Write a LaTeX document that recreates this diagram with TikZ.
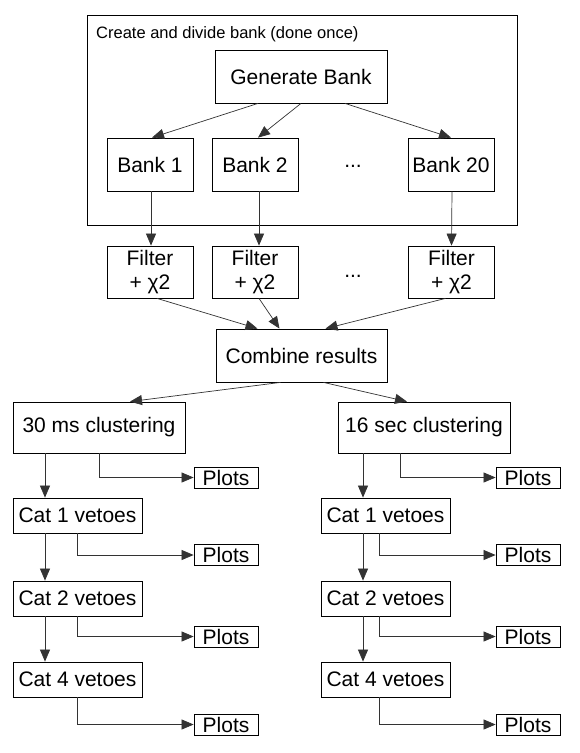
\documentclass[tikz,border=0pt]{standalone}
\usepackage{fontspec}
\setmainfont{Liberation Sans}
\usetikzlibrary{arrows.meta}

\begin{document}
\begin{tikzpicture}[
    x=1pt, y=-1pt,
    box/.style={
        rectangle,
        draw=black,
        line width=0.8pt,
        inner sep=0pt,
        font=\fontsize{21}{24}\selectfont
    },
    bankbox/.style={box, minimum width=86pt, minimum height=53pt},
    catbox/.style={box, minimum width=129pt, minimum height=35pt},
    plotbox/.style={box, minimum width=64pt, minimum height=21pt},
    clusbox/.style={box, minimum width=172pt, minimum height=51pt},
    arr/.style={-{Triangle[length=12pt,width=10pt]}, draw=black!80, line width=0.7pt},
    lnk/.style={draw=black!80, line width=0.7pt}
]
\useasboundingbox (0,0) rectangle (579,753);

% Bank creation
\node[box, minimum width=430pt, minimum height=210pt] (frame) at (302,120) {};
\node[anchor=west, inner sep=0pt, font=\fontsize{16.5}{19}\selectfont] (title) at (96,34) {Create and divide bank (done once)};

\node[box, minimum width=172pt, minimum height=53pt] (gen) at (301,76.5) {Generate Bank};
\node[bankbox] (b1) at (150,164.5) {Bank 1};
\node[bankbox] (b2) at (255,164.5) {Bank 2};
\node[bankbox] (b20) at (451,164.5) {Bank 20};
\node[font=\fontsize{21}{24}\selectfont] (dots1) at (353,166) {...};

\draw[arr] ([xshift=-43pt]gen.south) -- ([xshift=2pt]b1.north);
\draw[arr] (gen.south) -- ([xshift=3pt]b2.north);
\draw[arr] ([xshift=44pt]gen.south) -- (b20.north);

% Filtering
\node[bankbox, minimum height=52pt, align=center] (f1) at (150,272) {Filter\\+ χ2};
\node[bankbox, minimum height=52pt, align=center] (f2) at (255,272) {Filter\\+ χ2};
\node[bankbox, minimum height=52pt, align=center] (f3) at (451.5,272) {Filter\\+ χ2};
\node[font=\fontsize{21}{24}\selectfont] (dots2) at (353,276) {...};

\draw[arr] ([xshift=1pt]b1.south) -- ([xshift=1pt]f1.north);
\draw[arr] ([xshift=4pt]b2.south) -- ([xshift=4pt]f2.north);
\draw[arr] ([xshift=1pt]b20.south) -- (f3.north);

% Combine
\node[box, minimum width=171pt, minimum height=53pt] (comb) at (301.5,355.5) {Combine results};

\draw[arr] ([xshift=7pt]f1.south) -- ([xshift=-44pt]comb.north);
\draw[arr] ([xshift=4pt]f2.south) -- ([xshift=-22pt]comb.north);
\draw[arr] ([xshift=-6pt]f3.south) -- ([xshift=24pt]comb.north);

% Clustering
\node[clusbox] (c30) at (99,427.5) {30 ms clustering};
\node[clusbox] (c16) at (424,427.5) {16 sec clustering};

\draw[arr] ([xshift=-21pt]comb.south) -- ([xshift=31pt]c30.north);
\draw[arr] ([xshift=22pt]comb.south) -- ([xshift=-17pt]c16.north);

% Vetoes, 30 ms
\node[catbox] (l1) at (77.5,515.5) {Cat 1 vetoes};
\node[catbox] (l2) at (77.5,598.5) {Cat 2 vetoes};
\node[catbox] (l4) at (77.5,679.5) {Cat 4 vetoes};

\node[plotbox] (lp0) at (226,477.5) {Plots};
\node[plotbox] (lp1) at (226,555) {Plots};
\node[plotbox] (lp2) at (226,636.5) {Plots};
\node[plotbox] (lp4) at (226,724.5) {Plots};

\draw[arr] ([xshift=-54pt]c30.south) -- ([xshift=-32.5pt]l1.north);
\draw[arr] ([xshift=-32.5pt]l1.south) -- ([xshift=-32.5pt]l2.north);
\draw[arr] ([xshift=-32.5pt]l2.south) -- ([xshift=-32.5pt]l4.north);

\draw[arr] (c30.south) |- (lp0.west);
\draw[arr] (l1.south) |- (lp1.west);
\draw[arr] (l2.south) |- (lp2.west);
\draw[arr] (l4.south) |- (lp4.west);

% Vetoes, 16 sec
\node[catbox] (r1) at (385.5,515.5) {Cat 1 vetoes};
\node[catbox] (r2) at (385.5,598.5) {Cat 2 vetoes};
\node[catbox] (r4) at (385.5,679.5) {Cat 4 vetoes};

\node[plotbox] (rp0) at (528,477.5) {Plots};
\node[plotbox] (rp1) at (528,555) {Plots};
\node[plotbox] (rp2) at (528,636.5) {Plots};
\node[plotbox] (rp4) at (528,724.5) {Plots};

\draw[arr] ([xshift=-61pt]c16.south) -- ([xshift=-22.5pt]r1.north);
\draw[arr] ([xshift=-22.5pt]r1.south) -- ([xshift=-22.5pt]r2.north);
\draw[arr] ([xshift=-22.5pt]r2.south) -- ([xshift=-22.5pt]r4.north);

\draw[arr] ([xshift=-24pt]c16.south) |- (rp0.west);
\draw[arr] ([xshift=-6.5pt]r1.south) |- (rp1.west);
\draw[arr] ([xshift=-6.5pt]r2.south) |- (rp2.west);
\draw[arr] ([xshift=-6.5pt]r4.south) |- (rp4.west);

\end{tikzpicture}
\end{document}
